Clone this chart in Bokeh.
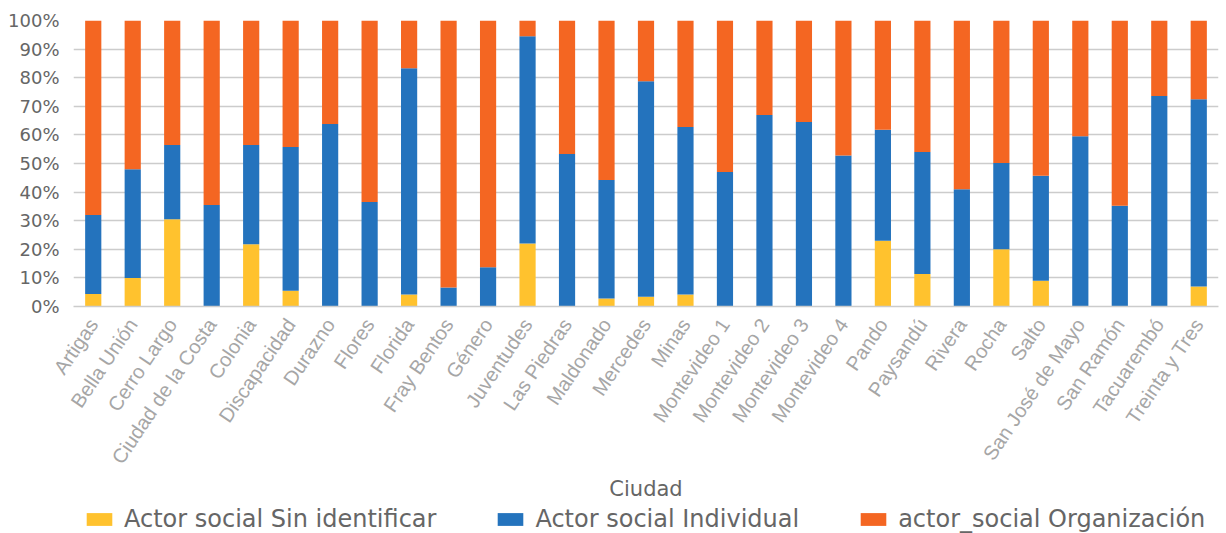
from bokeh.plotting import figure
from bokeh.models import ColumnDataSource, Legend, LegendItem, NumeralTickFormatter, FactorRange
from bokeh.layouts import column
from bokeh.embed import file_html
from bokeh.resources import INLINE
import math

cities = ["Artigas", "Bella Unión", "Cerro Largo", "Ciudad de la Costa", "Colonia",
          "Discapacidad", "Durazno", "Flores", "Florida", "Fray Bentos", "Género",
          "Juventudes", "Las Piedras", "Maldonado", "Mercedes", "Minas",
          "Montevideo 1", "Montevideo 2", "Montevideo 3", "Montevideo 4", "Pando",
          "Paysandú", "Rivera", "Rocha", "Salto", "San José de Mayo", "San Ramón",
          "Tacuarembó", "Treinta y Tres"]

sin_identificar = [4.4, 10.0, 30.5, 0, 21.8, 5.5, 0, 0, 4.2, 0, 0, 22.0, 0, 2.8, 3.4,
                   4.2, 0, 0, 0, 0, 23.0, 11.4, 0, 20.0, 9.0, 0, 0, 0, 7.0]
individual = [27.6, 38.0, 26.0, 35.5, 34.7, 50.3, 63.8, 36.5, 79.1, 6.6, 13.7, 72.5,
              53.3, 41.4, 75.4, 58.6, 47.0, 67.0, 64.5, 52.8, 38.8, 42.6, 41.0, 30.2,
              36.7, 59.5, 35.2, 73.6, 65.5]
organizacion = [68.0, 52.0, 43.5, 64.5, 43.5, 44.2, 36.2, 63.5, 16.7, 93.4, 86.3, 5.5,
                46.7, 55.8, 21.2, 37.2, 53.0, 33.0, 35.5, 47.2, 38.2, 46.0, 59.0, 49.8,
                54.3, 40.5, 64.8, 26.4, 27.5]

series_names = ["Actor social Sin identificar", "Actor social Individual",
                "actor_social Organización"]
colors = ["#FFC22E", "#2473BD", "#F46622"]

source = ColumnDataSource(dict(
    city=cities,
    s0=[v / 100 for v in sin_identificar],
    s1=[v / 100 for v in individual],
    s2=[v / 100 for v in organizacion],
))

WIDE = "DejaVu Sans"
ARIAL = "Liberation Sans"

p = figure(x_range=FactorRange(*cities), y_range=(0, 1), width=1226, height=505,
           output_backend="svg", toolbar_location=None,
           min_border_left=73, min_border_right=8, min_border_top=20,
           min_border_bottom=199)

renderers = p.vbar_stack(["s0", "s1", "s2"], x="city", width=0.41, color=colors,
                         source=source, line_width=0)

p.outline_line_color = None
p.xgrid.grid_line_color = None
p.ygrid.grid_line_color = "#cccccc"
p.ygrid.grid_line_width = 1.5

p.yaxis.ticker = [i / 10 for i in range(11)]
p.yaxis.formatter = NumeralTickFormatter(format="0%")
p.yaxis.axis_line_color = None
p.yaxis.major_tick_line_color = None
p.yaxis.minor_tick_line_color = None
p.yaxis.major_label_text_font = WIDE
p.yaxis.major_label_text_font_size = "18px"
p.yaxis.major_label_text_color = "#666666"
p.yaxis.major_label_standoff = 8

p.xaxis.axis_line_color = "#cccccc"
p.xaxis.axis_line_width = 1.5
p.xaxis.major_tick_line_color = None
p.xaxis.minor_tick_line_color = None
p.xaxis.major_label_orientation = math.radians(56)
p.xaxis.major_label_text_font = ARIAL
p.xaxis.major_label_text_font_size = "20px"
p.xaxis.major_label_text_color = "#a6a6a6"
p.xaxis.major_label_standoff = 8
p.xaxis.axis_label = "Ciudad"
p.xaxis.axis_label_text_font = WIDE
p.xaxis.axis_label_text_font_size = "21px"
p.xaxis.axis_label_text_font_style = "normal"
p.xaxis.axis_label_text_color = "#666666"
p.xaxis.axis_label_standoff = 0

# legend strip below the chart (its frame is aligned with the chart's frame)
lg = figure(width=1226, height=28, output_backend="svg", toolbar_location=None,
            x_range=(0, 1), y_range=(0, 1), x_axis_type=None, y_axis_type=None,
            min_border_left=73, min_border_right=8, min_border_top=0, min_border_bottom=0)
lg.outline_line_color = None
lg.grid.grid_line_color = None
dummy = [lg.vbar(x=[0.5], top=[0], bottom=[0], width=0, color=c, line_width=0)
         for c in colors]

legend = Legend(items=[LegendItem(label=n, renderers=[r]) for n, r in zip(series_names, dummy)],
                orientation="horizontal", location=(10, 0),
                label_text_font=WIDE, label_text_font_size="24px",
                label_text_color="#666666",
                glyph_width=32, glyph_height=16, label_standoff=9, spacing=58,
                border_line_alpha=0, background_fill_alpha=0, padding=0, margin=0)
lg.add_layout(legend, "center")

open("out.html", "w").write(file_html(column(p, lg), INLINE))
